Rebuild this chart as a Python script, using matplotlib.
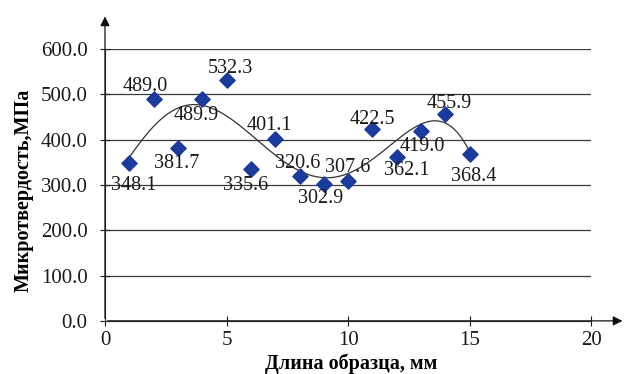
import numpy as np
import matplotlib
matplotlib.use("Agg")
import matplotlib.pyplot as plt

plt.rcParams['font.family'] = ['Liberation Serif', 'DejaVu Serif']

x_vals = [1, 2, 3, 4, 5, 6, 7, 8, 9, 10, 11, 12, 13, 14, 15]
hardness = [348.1, 489.0, 381.7, 489.9, 532.3, 335.6, 401.1, 320.6,
            302.9, 307.6, 422.5, 362.1, 419.0, 455.9, 368.4]
x_ticks = [0, 5, 10, 15, 20]
y_ticks = [0, 100, 200, 300, 400, 500, 600]

# label offsets (points)
offsets = [(3, -16), (-6, 9), (-1, -11), (-4, -12), (3, 8), (-4, -12),
           (-4, 10), (-1, 9), (-2, -11), (0, 10), (0, 7), (7, -10),
           (1, -11), (3, 8), (3, -16)]

fig = plt.figure(figsize=(6.25, 3.74), dpi=100)
ax = fig.add_axes([0.168, 0.142, 0.778, 0.727])

# trend line (polynomial, 6th order)
coef = np.polyfit(x_vals, hardness, 6)
xs = np.linspace(min(x_vals), max(x_vals), 300)
ax.plot(xs, np.polyval(coef, xs), color='#333333', lw=0.9, zorder=2)

ax.scatter(x_vals, hardness, marker='D', s=60, color='#1a3a9c',
           edgecolor='#1a3a9c', zorder=3)

for xv, yv, off in zip(x_vals, hardness, offsets):
    ax.annotate(f"{yv:.1f}", (xv, yv), xytext=off, textcoords='offset points',
                ha='center', va='center', fontsize=14.5, color='#1a1a1a', zorder=4)

ax.set_xlim(0, 20)
ax.set_ylim(0, 600)
ax.set_xticks(x_ticks)
ax.set_yticks(y_ticks)
ax.set_yticklabels([f"{v:.1f}" for v in y_ticks])
ax.tick_params(labelsize=15, colors='#1a1a1a', length=7, width=0.8,
               direction='inout')
ax.tick_params(axis='y', pad=9)
ax.tick_params(axis='x', pad=4)
ax.yaxis.grid(True, color='#3a3a3a', lw=0.9)
ax.set_axisbelow(True)
for s in ['top', 'right']:
    ax.spines[s].set_visible(False)
for s in ['left', 'bottom']:
    ax.spines[s].set_color('#333333')

ax.annotate('', xy=(0, 1.13), xytext=(0, 0), xycoords='axes fraction',
            arrowprops=dict(arrowstyle='-|>', color='#111111', lw=0.9,
                            mutation_scale=14), annotation_clip=False)
ax.annotate('', xy=(1.07, 0), xytext=(0, 0), xycoords='axes fraction',
            arrowprops=dict(arrowstyle='-|>', color='#111111', lw=0.9,
                            mutation_scale=14), annotation_clip=False)

ax.set_xlabel('Длина образца, мм', fontsize=14.5, fontweight='bold')
ax.set_ylabel('Микротвердость,МПа', fontsize=14.5, fontweight='bold')
ax.yaxis.set_label_coords(-0.147, 0.48)
ax.xaxis.set_label_coords(0.506, -0.12)

fig.savefig('out.png', dpi=100)
